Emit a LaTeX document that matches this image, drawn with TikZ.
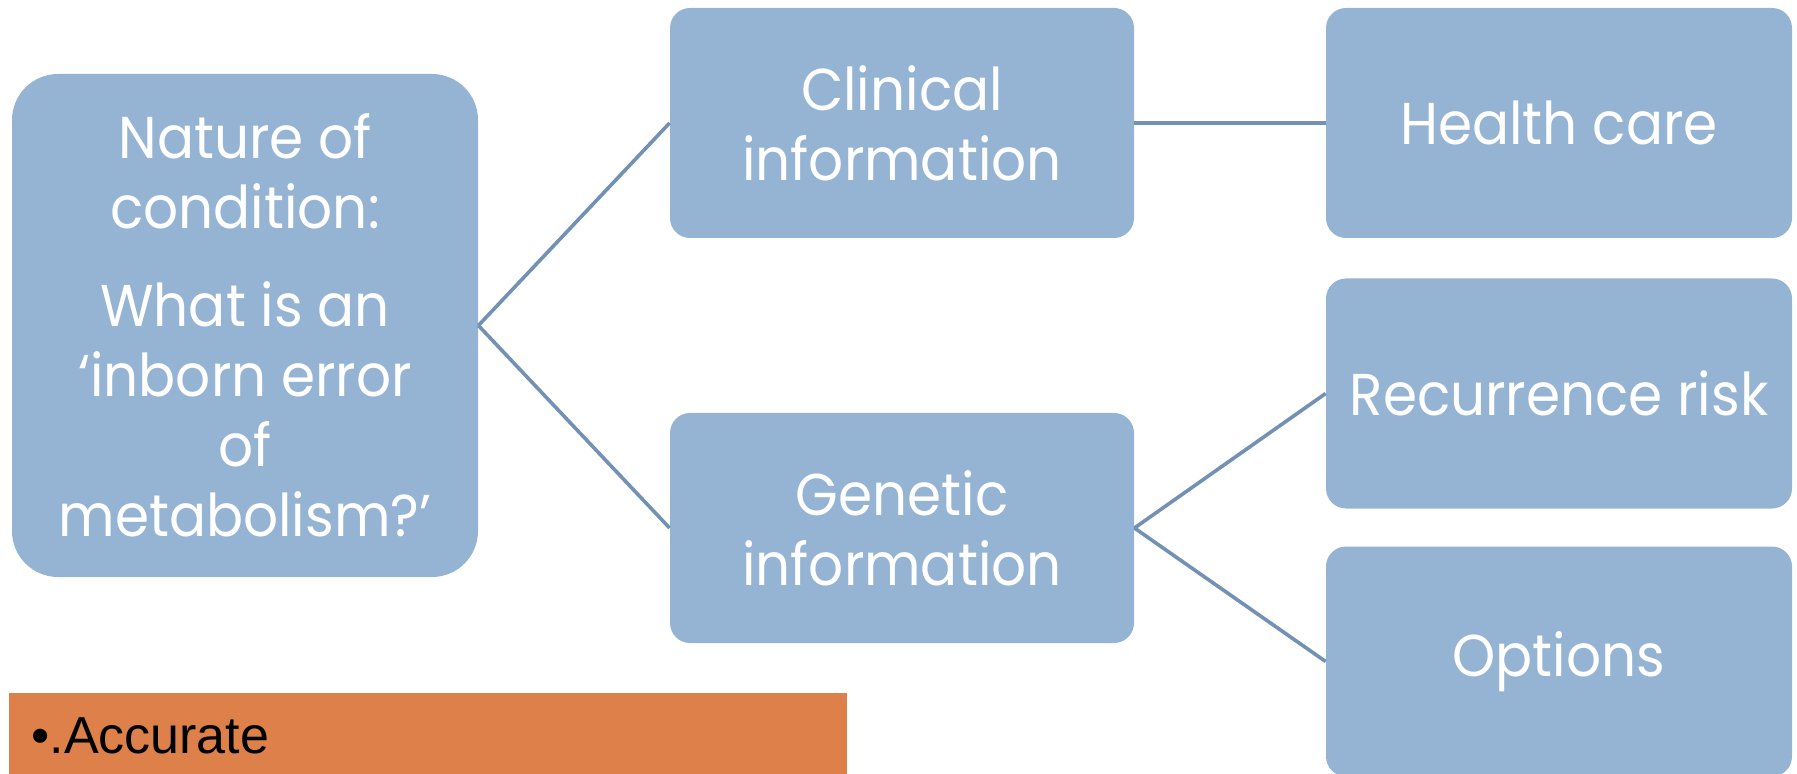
\documentclass[tikz,border=0pt]{standalone}
\usepackage{fontspec}
\usepackage{xcolor}
\usepackage{tikz}
\usetikzlibrary{positioning}
\newfontfamily\boxfont[FakeStretch=0.93]{Poppins}
\newfontfamily\barfont{Liberation Sans}
\definecolor{boxblue}{HTML}{95B3D3}
\definecolor{linkblue}{HTML}{7391B4}
\definecolor{barorange}{HTML}{DD8049}
\pgfdeclarelayer{nodelayer}
\pgfdeclarelayer{edgelayer}
\pgfsetlayers{nodelayer,edgelayer,main}
\tikzset{
    box/.style={rectangle, fill=boxblue, text=white, align=center, inner sep=0pt,
        font=\boxfont\fontsize{29.5}{35}\selectfont,
        minimum width=232pt, minimum height=115pt, rounded corners=10pt},
    bigbox/.style={box, minimum height=251.5pt, rounded corners=23pt},
    bar/.style={rectangle, fill=barorange, text=black, align=left, inner xsep=11pt, inner ysep=0pt,
        font=\barfont\fontsize{26}{32}\selectfont,
        text width=397pt, minimum height=42pt},
    link/.style={draw=linkblue, line width=1.8pt}
}

\begin{document}
\begin{tikzpicture}[x=0.5pt, y=-0.5pt]
        \clip (0, 0) rectangle (1797, 774);
        \begin{pgfonlayer}{nodelayer}
            \node [bigbox, minimum width=233pt] (nature) at (245, 325.5) {Nature of\\condition:\\[14pt]What is an\\‘inborn error\\of\\metabolism?’};
            \node [box] (clinical) at (902, 123) {Clinical\\information};
            \node [box] (genetic) at (902, 528) {Genetic\\information};
            \node [box, minimum width=233pt] (health) at (1559, 123) {Health care};
            \node [box, minimum width=233pt] (recurrence) at (1559, 393.5) {Recurrence risk};
            \node [box, minimum width=233pt] (options) at (1559, 661.5) {Options};
            \node [bar, anchor=north west] (accurate) at (9, 693) {•.Accurate};
        \end{pgfonlayer}
        \begin{pgfonlayer}{edgelayer}
            \draw [link] (nature.east) to (clinical.west);
            \draw [link] (nature.east) to (genetic.west);
            \draw [link] (clinical.east) to (health.west);
            \draw [link] (genetic.east) to (recurrence.west);
            \draw [link] (genetic.east) to (options.west);
        \end{pgfonlayer}
    \end{tikzpicture}
\end{document}
